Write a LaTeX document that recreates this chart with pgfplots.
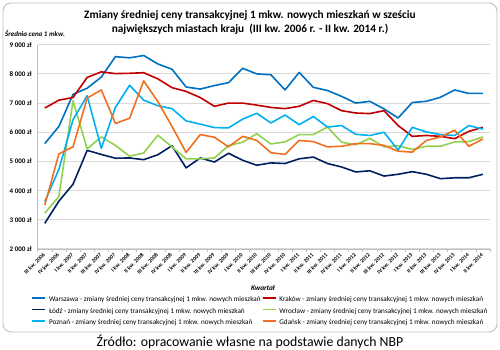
\documentclass[border=0pt]{standalone}
\usepackage{pgfplots}
\usepackage{pgfplotstable}
\pgfplotsset{compat=1.18}
\usepackage{fontspec}
\setmainfont{Carlito}
\definecolor{cW}{HTML}{0070C0}
\definecolor{cK}{HTML}{C00000}
\definecolor{cL}{HTML}{002060}
\definecolor{cWr}{HTML}{92D050}
\definecolor{cP}{HTML}{00B0F0}
\definecolor{cG}{HTML}{F07020}
\definecolor{gridc}{HTML}{D9D9D9}
\definecolor{axc}{HTML}{BFBFBF}

\pgfplotstableread{
i W K L Wr P G
0 5610 6830 2880 3230 3620 3500
1 6200 7100 3640 3800 4730 5260
2 7300 7190 4220 7080 6430 5500
3 7510 7880 5380 5430 7250 7170
4 7890 8070 5240 5840 5450 7450
5 8590 8010 5110 5550 6850 6300
6 8550 8020 5120 5180 7610 6480
7 8630 8040 5060 5290 7100 7760
8 8340 7830 5230 5900 6910 7050
9 8160 7530 5540 5500 6810 6200
10 7550 7400 4780 5090 6390 5310
11 7480 7190 5120 5090 6280 5920
12 7600 6890 4980 5120 6160 5830
13 7700 7000 5280 5540 6150 5500
14 8190 7000 5040 5660 6450 5860
15 8000 6930 4870 5950 6650 5720
16 7970 6850 4950 5600 6320 5300
17 7450 6810 4930 5670 6590 5240
18 8050 6890 5090 5920 6260 5720
19 7540 7090 5150 5920 6540 5680
20 7430 6980 4930 6180 6180 5500
21 7230 6740 4810 5660 6230 5520
22 7000 6660 4640 5570 5930 5610
23 7060 6640 4680 5790 5890 5610
24 6800 6740 4500 5500 6000 5550
25 6490 6230 4560 5540 5390 5350
26 7020 5860 4650 5410 6170 5320
27 7060 5890 4560 5520 6010 5720
28 7200 5860 4410 5520 5920 5840
29 7450 5780 4440 5670 5890 6070
30 7330 6030 4440 5680 6230 5520
31 7330 6170 4560 5840 6110 5770
}\data

\begin{document}
\begin{tikzpicture}
\useasboundingbox (0,0) rectangle (500pt,349pt);
\draw[axc, line width=0.9pt, rounded corners=8pt] (3pt,17pt) rectangle (497pt,346pt);
\node[align=center, font=\bfseries\fontsize{11.3}{14}\selectfont] at (250pt,327pt)
  {Zmiany średniej ceny transakcyjnej 1 mkw. nowych mieszkań w sześciu\\
   największych miastach kraju\ \ (III kw. 2006 r. - II kw. 2014 r.)};
\node[anchor=west, font=\bfseries\itshape\fontsize{7}{8}\selectfont, inner sep=0pt] at (5pt,315pt) {Średnia cena 1 mkw.};
\node[font=\bfseries\itshape\fontsize{7.3}{8}\selectfont] at (263pt,61pt) {Kwartał};
\node[font=\fontsize{13.8}{16}\selectfont] at (250pt,7pt) {Źródło: opracowanie własne na podstawie danych NBP};
\begin{axis}[
  at={(37.7pt,100pt)}, anchor=south west,
  scale only axis, width=452.3pt, height=204.3pt,
  xmin=-0.5, xmax=31.5, ymin=2000, ymax=9000,
  axis x line*=bottom, axis y line*=left,
  axis line style={axc, line width=0.8pt, -},
  ytick={2000,3000,4000,5000,6000,7000,8000,9000},
  yticklabels={2 000 zł,3 000 zł,4 000 zł,5 000 zł,6 000 zł,7 000 zł,8 000 zł,9 000 zł},
  xtick={0,...,31},
  xticklabels={III kw. 2006,IV kw. 2006,I kw. 2007,II kw. 2007,III kw. 2007,IV kw. 2007,I kw. 2008,II kw. 2008,III kw. 2008,IV kw. 2008,I kw. 2009,II kw. 2009,III kw. 2009,IV kw. 2009,I kw. 2010,II kw. 2010,III kw. 2010,IV kw. 2010,I kw. 2011,II kw. 2011,III kw. 2011,IV kw. 2011,I kw. 2012,II kw. 2012,III kw. 2012,IV kw. 2012,I kw. 2013,II kw. 2013,III kw. 2013,IV kw. 2013,I kw. 2014,II kw. 2014},
  minor xtick={-0.5,0.5,...,31.5},
  major x tick style={draw=none},
  minor x tick style={axc, line width=0.6pt},
  ytick style={draw=none},
  tick align=outside, minor tick length=3pt,
  ymajorgrids, major grid style={gridc, line width=1.1pt},
  yticklabel style={font=\bfseries\fontsize{7}{8}\selectfont, inner sep=1.5pt},
  xticklabel style={font=\bfseries\fontsize{5.6}{6}\selectfont, rotate=45, anchor=east, inner sep=1pt},
  every axis plot/.append style={line width=1.6pt, line join=round},
  legend columns=2,
  legend cell align=left,
  legend image code/.code={\draw[#1, line width=1.8pt] (0pt,2pt) -- (13pt,2pt);},
  legend style={at={(axis description cs:-0.0148,-0.226)}, anchor=north west, draw=none, fill=none,
    inner sep=0pt, font=\fontsize{7.2}{8}\selectfont, row sep=3.3pt,
    nodes={inner sep=1pt},
    /tikz/every odd column/.append style={column sep=2pt}},
]
\addplot[cW] table[x=i,y=W] {\data};
\addlegendentry{Warszawa - zmiany średniej ceny transakcyjnej 1 mkw. nowych mieszkań}
\addplot[cK] table[x=i,y=K] {\data};
\addlegendentry{Kraków - zmiany średniej ceny transakcyjnej 1 mkw. nowych mieszkań}
\addplot[cL] table[x=i,y=L] {\data};
\addlegendentry{Łódź - zmiany średniej ceny transakcyjnej 1 mkw. nowych mieszkań}
\addplot[cWr] table[x=i,y=Wr] {\data};
\addlegendentry{Wrocław - zmiany średniej ceny transakcyjnej 1 mkw. nowych mieszkań}
\addplot[cP] table[x=i,y=P] {\data};
\addlegendentry{Poznań - zmiany średniej ceny transakcyjnej 1 mkw. nowych mieszkań}
\addplot[cG] table[x=i,y=G] {\data};
\addlegendentry{Gdańsk - zmiany średniej ceny transakcyjnej 1 mkw. nowych mieszkań}
\end{axis}
\end{tikzpicture}
\end{document}
